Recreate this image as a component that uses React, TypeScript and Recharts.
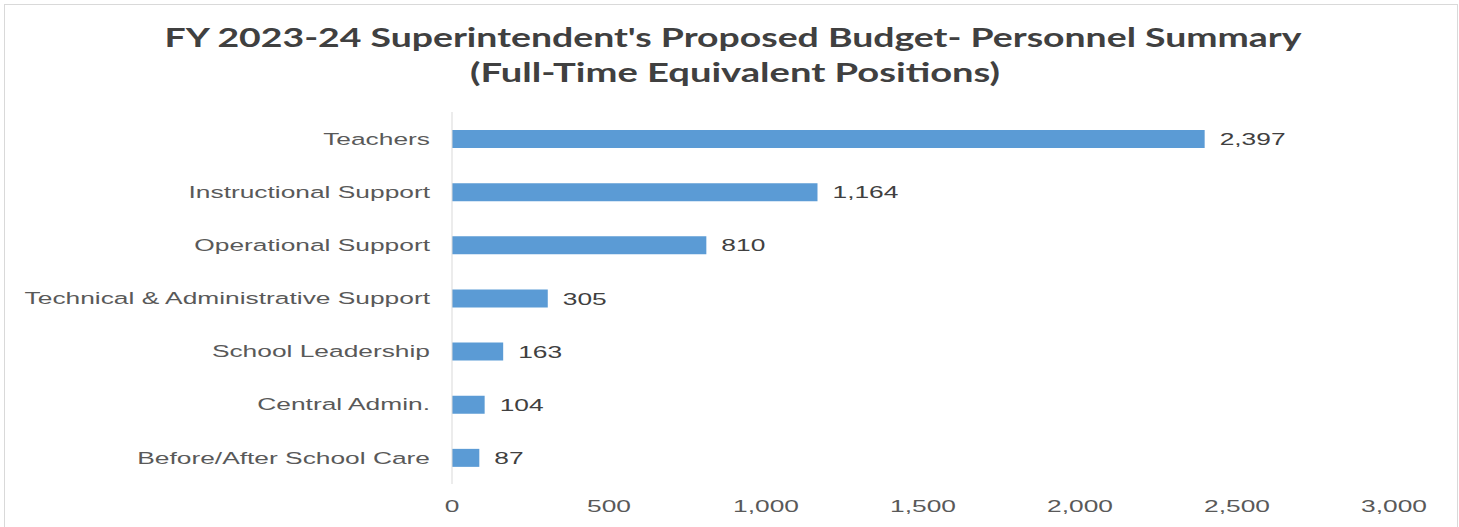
import React from "react";
import { BarChart, Bar, XAxis, YAxis, LabelList } from "recharts";

const categories = [
  "Teachers",
  "Instructional Support",
  "Operational Support",
  "Technical & Administrative Support",
  "School Leadership",
  "Central Admin.",
  "Before/After School Care",
];
const positions = [2397, 1164, 810, 305, 163, 104, 87];
const xTicks = [0, 500, 1000, 1500, 2000, 2500, 3000];
const titleLines = [
  "FY 2023-24 Superintendent's Proposed Budget- Personnel Summary",
  "(Full-Time Equivalent Positions)",
];

const data = categories.map((name, i) => ({ name, value: positions[i] }));

const FONT = "'Liberation Sans', Arial, sans-serif";
const STRETCH = 1.55;
const fmt = (v: number) => v.toLocaleString("en-US");

function YTick(props: any) {
  const { x, y, payload } = props;
  return (
    <text
      transform={`translate(${x},${y}) scale(${STRETCH},1)`}
      textAnchor="end"
      dy="0.36em"
      fontSize={17}
      fontFamily={FONT}
      fill="#595959"
    >
      {payload.value}
    </text>
  );
}

function XTick(props: any) {
  const { x, y, payload } = props;
  return (
    <text
      transform={`translate(${x},${y}) scale(${STRETCH},1)`}
      textAnchor="middle"
      dy="0.71em"
      fontSize={17}
      fontFamily={FONT}
      fill="#595959"
    >
      {fmt(payload.value)}
    </text>
  );
}

function ValueLabel(props: any) {
  const { x, y, width, height, value } = props;
  return (
    <text
      transform={`translate(${x + width + 15},${y + height / 2}) scale(${STRETCH},1)`}
      textAnchor="start"
      dy="0.36em"
      fontSize={17}
      fontFamily={FONT}
      fill="#404040"
    >
      {fmt(value)}
    </text>
  );
}

export default function App() {
  return (
    <div
      style={{
        position: "absolute",
        left: 0,
        top: 0,
        width: 1459,
        height: 527,
        overflow: "hidden",
        background: "#fff",
      }}
    >
      <div
        style={{
          position: "absolute",
          left: 4,
          top: 4,
          width: 1452,
          height: 600,
          border: "1px solid #D9D9D9",
        }}
      />
      <svg width={1459} height={100} style={{ position: "absolute", left: 0, top: 0 }}>
        <text
          x={733}
          y={47}
          textAnchor="middle"
          fontSize={26}
          fontWeight="bold"
          fontFamily="Lato, 'Open Sans', sans-serif"
          fill="#404040"
          textLength={1137}
          lengthAdjust="spacingAndGlyphs"
        >
          {titleLines[0]}
        </text>
        <text
          x={735}
          y={82}
          textAnchor="middle"
          fontSize={26}
          fontWeight="bold"
          fontFamily="Lato, 'Open Sans', sans-serif"
          fill="#404040"
          textLength={530}
          lengthAdjust="spacingAndGlyphs"
        >
          {titleLines[1]}
        </text>
      </svg>
      <div style={{ position: "absolute", left: 0, top: 0 }}>
        <BarChart
          width={1459}
          height={527}
          data={data}
          layout="vertical"
          margin={{ top: 112, right: 65, bottom: 13, left: 12 }}
          barCategoryGap={0}
        >
          <XAxis
            type="number"
            domain={[0, 3000]}
            ticks={xTicks}
            axisLine={false}
            tickLine={false}
            tickSize={0}
            tickMargin={16}
            height={30}
            tick={<XTick />}
            interval={0}
          />
          <YAxis
            type="category"
            dataKey="name"
            width={440}
            axisLine={{ stroke: "#D9D9D9" }}
            tickLine={false}
            tickSize={0}
            tickMargin={22}
            tick={<YTick />}
            interval={0}
          />
          <Bar dataKey="value" fill="#5B9BD5" barSize={18} isAnimationActive={false}>
            <LabelList dataKey="value" content={<ValueLabel />} />
          </Bar>
        </BarChart>
      </div>
    </div>
  );
}
